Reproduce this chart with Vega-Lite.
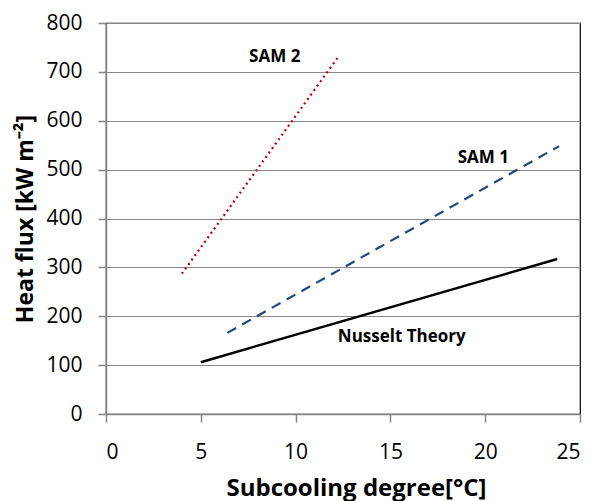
{
  "$schema": "https://vega.github.io/schema/vega-lite/v6.json",
  "width": 474,
  "height": 391,
  "autosize": {"type": "none"},
  "padding": {"left": 106, "top": 23, "right": 16, "bottom": 87},
  "background": "white",
  "config": {
    "view": {"stroke": "black", "strokeWidth": 1.2},
    "font": "Open Sans"
  },
  "datasets": {
    "lines": [
      {"series": "Nusselt", "x": 5.0, "y": 106},
      {"series": "Nusselt", "x": 23.8, "y": 317},
      {"series": "SAM1", "x": 6.4, "y": 166},
      {"series": "SAM1", "x": 23.9, "y": 548},
      {"series": "SAM2", "x": 4.0, "y": 287},
      {"series": "SAM2", "x": 12.2, "y": 728}
    ],
    "labels": [
      {"text": "SAM 2", "x": 8.9, "y": 730},
      {"text": "SAM 1", "x": 19.9, "y": 524},
      {"text": "Nusselt Theory", "x": 15.6, "y": 158}
    ]
  },
  "layer": [
    {
      "data": {"name": "lines"},
      "transform": [{"filter": "datum.series === 'Nusselt'"}],
      "mark": {"type": "line", "color": "black", "strokeWidth": 2.5},
      "encoding": {
        "x": {
          "field": "x", "type": "quantitative",
          "scale": {"domain": [0, 25], "nice": false},
          "axis": {
            "values": [0, 5, 10, 15, 20, 25],
            "title": "Subcooling degree[°C]",
            "titleFontSize": 24, "titleFontWeight": "bold", "titleColor": "black",
            "titlePadding": 14, "titleX": 250,
            "labelFontSize": 21, "labelColor": "black", "labelPadding": 19,
            "labelFont": "Open Sans", "titleFont": "Open Sans",
            "grid": false,
            "domainColor": "#868686", "domainWidth": 1.5,
            "tickColor": "#868686", "tickSize": 8, "tickWidth": 1.5
          }
        },
        "y": {
          "field": "y", "type": "quantitative",
          "scale": {"domain": [0, 800], "nice": false},
          "axis": {
            "values": [0, 100, 200, 300, 400, 500, 600, 700, 800],
            "title": "Heat flux [kW m⁻²]",
            "titleFontSize": 23, "titleFontWeight": "bold", "titleColor": "black",
            "titlePadding": 8,
            "labelFontSize": 21, "labelColor": "black", "labelPadding": 16,
            "labelFont": "Open Sans", "titleFont": "Open Sans",
            "grid": true, "gridColor": "#868686", "gridWidth": 1.2,
            "domainColor": "#868686", "domainWidth": 1.5,
            "tickColor": "#868686", "tickSize": 8, "tickWidth": 1.5
          }
        }
      }
    },
    {
      "data": {"name": "lines"},
      "transform": [{"filter": "datum.series === 'SAM1'"}],
      "mark": {"type": "line", "color": "#1F497D", "strokeWidth": 2.2, "strokeDash": [10, 7]},
      "encoding": {
        "x": {"field": "x", "type": "quantitative"},
        "y": {"field": "y", "type": "quantitative"}
      }
    },
    {
      "data": {"name": "lines"},
      "transform": [{"filter": "datum.series === 'SAM2'"}],
      "mark": {"type": "line", "color": "#C00000", "strokeWidth": 2.2, "strokeDash": [2, 3.5]},
      "encoding": {
        "x": {"field": "x", "type": "quantitative"},
        "y": {"field": "y", "type": "quantitative"}
      }
    },
    {
      "data": {"name": "labels"},
      "mark": {"type": "text", "fontSize": 17, "fontWeight": "bold", "color": "black", "font": "Open Sans", "align": "center", "baseline": "middle"},
      "encoding": {
        "x": {"field": "x", "type": "quantitative"},
        "y": {"field": "y", "type": "quantitative"},
        "text": {"field": "text"}
      }
    }
  ]
}
